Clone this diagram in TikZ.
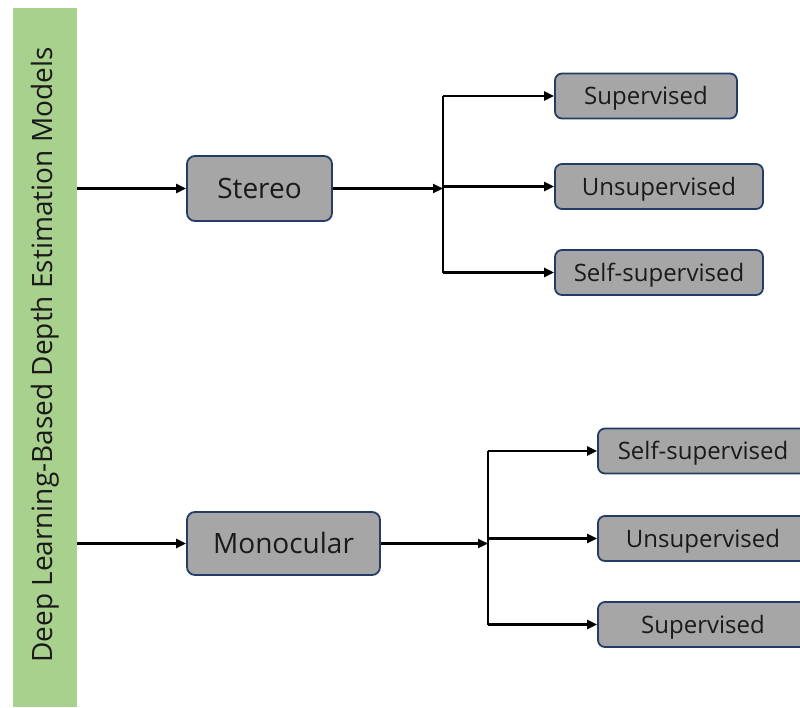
\documentclass[tikz,border=0pt]{standalone}
\usepackage{fontspec}
\setmainfont{Open Sans}
\usetikzlibrary{arrows.meta}
\definecolor{barGreen}{HTML}{A9D18E}
\definecolor{boxGray}{HTML}{A6A6A6}
\definecolor{boxEdge}{HTML}{233D66}
\definecolor{inkText}{HTML}{1A1A1A}
\tikzset{
  catbox/.style={draw=boxEdge, line width=1.8pt, fill=boxGray, rounded corners=8pt,
    inner sep=0pt, text=inkText, text height=23pt, text depth=2.8pt,
    font=\fontsize{28}{32}\selectfont},
  leafbox/.style={draw=boxEdge, line width=1.8pt, fill=boxGray, rounded corners=7pt,
    inner sep=0pt, minimum height=45pt, text=inkText, text height=20pt, text depth=2.7pt,
    font=\fontsize{24}{28}\selectfont},
  link/.style={line width=2.2pt, black},
  arr/.style={link, -{Triangle[length=10pt,width=9pt]}},
}
\begin{document}
\begin{tikzpicture}[x=1pt, y=-1pt]
  \useasboundingbox (0,0) rectangle (800,707);
  \clip (0,0) rectangle (800,707);

  % title bar
  \node[fill=barGreen, minimum width=64pt, minimum height=699pt, inner sep=0pt]
    (bar) at (45,357.5) {};
  \node[rotate=90, text=inkText, font=\fontsize{28}{32}\selectfont] (title) at (45,355)
    {Deep Learning-Based Depth Estimation Models};

  % main categories
  \node[catbox, minimum width=145pt, minimum height=65pt] (stereo) at (259.5,188.5) {Stereo};
  \node[catbox, minimum width=193pt, minimum height=63pt] (mono) at (283.5,543.5) {Monocular};

  % stereo branches
  \node[leafbox, minimum width=182pt] (s1) at (646,96) {Supervised};
  \node[leafbox, minimum width=208pt] (s2) at (659,186.5) {Unsupervised};
  \node[leafbox, minimum width=208pt] (s3) at (659,272.5) {Self-supervised};

  % monocular branches
  \node[leafbox, minimum width=210pt] (m1) at (703,451) {Self-supervised};
  \node[leafbox, minimum width=210pt] (m2) at (703,538.5) {Unsupervised};
  \node[leafbox, minimum width=210pt] (m3) at (703,624.5) {Supervised};

  % junction points on the vertical spines
  \coordinate (js) at (443,186.5);
  \coordinate (jm) at (488,541);

  % connectors
  \draw[arr] (bar.east |- stereo.west) -- (stereo.west);
  \draw[arr] (bar.east |- mono.west) -- (mono.west);

  \draw[arr] (stereo.east) -- (stereo.east -| js);
  \draw[link] (js |- s1.west) -- (js |- s3.west);
  \draw[arr] (js |- s1.west) -- (s1.west);
  \draw[arr] (js |- s2.west) -- (s2.west);
  \draw[arr] (js |- s3.west) -- (s3.west);

  \draw[arr] (mono.east) -- (mono.east -| jm);
  \draw[link] (jm |- m1.west) -- (jm |- m3.west);
  \draw[arr] (jm |- m1.west) -- (m1.west);
  \draw[arr] (jm |- m2.west) -- (m2.west);
  \draw[arr] (jm |- m3.west) -- (m3.west);
\end{tikzpicture}
\end{document}
